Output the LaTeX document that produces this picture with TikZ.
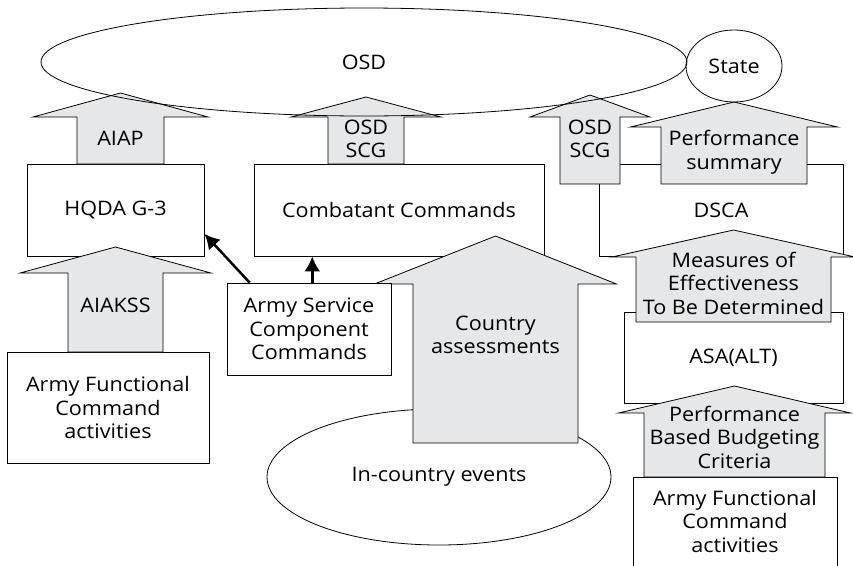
\documentclass[tikz,border=0pt]{standalone}
\usepackage{fontspec}
\setmainfont[FakeStretch=1.08]{Open Sans}
\usetikzlibrary{shapes, arrows.meta}
\definecolor{arrowgrey}{RGB}{230,231,232}

% block arrow: name, centre x, shaft half width, head half width,
% bottom y, head base y, tip y, text y, text
\newcommand{\blockarr}[9]{%
	\path[blockarrow] ({#2-#3},#5) -- ({#2-#3},#6) -- ({#2-#4},#6) -- (#2,#7)
	-- ({#2+#4},#6) -- ({#2+#3},#6) -- ({#2+#3},#5) -- cycle;
	\node[align=center] (#1) at (#2,#8) {#9};}

\begin{document}
\begin{tikzpicture}[x=1pt, y=-1pt, font=\fontsize{20}{23.5}\selectfont]
	\tikzstyle{box}=[rectangle, draw, fill=white, line width=0.8pt, align=center]
	\tikzstyle{oval}=[ellipse, draw, line width=0.8pt, align=center]
	\tikzstyle{blockarrow}=[draw, fill=arrowgrey, line width=0.8pt]
	\tikzstyle{link}=[line width=2.5pt, -{Latex[length=15pt, width=16pt]}]

	\useasboundingbox (0,0) rectangle (853,565);

	\node[oval, fill=white, minimum width=344, minimum height=136] (events) at (439,477) {In-country events};

	\node[box, minimum width=177, minimum height=92] (hqda) at (115.5,210) {HQDA G-3};
	\node[box, minimum width=202, minimum height=111] (afcleft) at (108,407.5) {Army Functional\\Command\\activities};
	\node[box, minimum width=290, minimum height=92] (comb) at (399,210) {Combatant Commands};
	\node[box, minimum width=244, minimum height=92] (dsca) at (721,210) {DSCA};
	\node[box, minimum width=219, minimum height=91] (asa) at (733.5,357.5) {ASA(ALT)};
	\node[box, minimum width=204, minimum height=120, anchor=north] (afcright) at (735,477) {};

	\blockarr{aiap}{120.5}{43.5}{87.5}{164}{117}{93}{138}{AIAP}
	\blockarr{aiakss}{115.5}{47.5}{95.5}{352}{273}{247}{305}{AIAKSS}
	\blockarr{scgmid}{366}{38}{75}{164}{117}{97}{139}{OSD\\SCG}
	\blockarr{country}{495.5}{82.5}{121}{443}{284}{236}{335}{Country\\assessments}
	\blockarr{scgright}{590}{30}{60}{184}{117}{95}{139}{OSD\\SCG}
	\blockarr{perfsum}{734}{73}{103.5}{184}{127}{102}{152}{Performance\\summary}
	\blockarr{moe}{733.5}{97.5}{121.5}{322}{257}{230}{283}{Measures of\\Effectiveness\\To Be Determined}
	\blockarr{pbb}{734.5}{90.5}{116}{477}{413}{386}{437}{Performance\\Based Budgeting\\Criteria}

	\node[box, minimum width=164, minimum height=92] (ascc) at (309,329) {Army Service\\Component\\Commands};

	\draw[link] (ascc.142) -- (hqda.-15);
	\draw[link] (ascc.86) -- (ascc.86 |- comb.south);

	\node[oval, minimum width=646, minimum height=108] (osd) at (364,62) {OSD};
	\node[oval, minimum width=96, minimum height=72] (state) at (734,66) {State};
	\node[align=center] (afcrtext) at (735,521) {Army Functional\\Command\\activities};
\end{tikzpicture}
\end{document}
